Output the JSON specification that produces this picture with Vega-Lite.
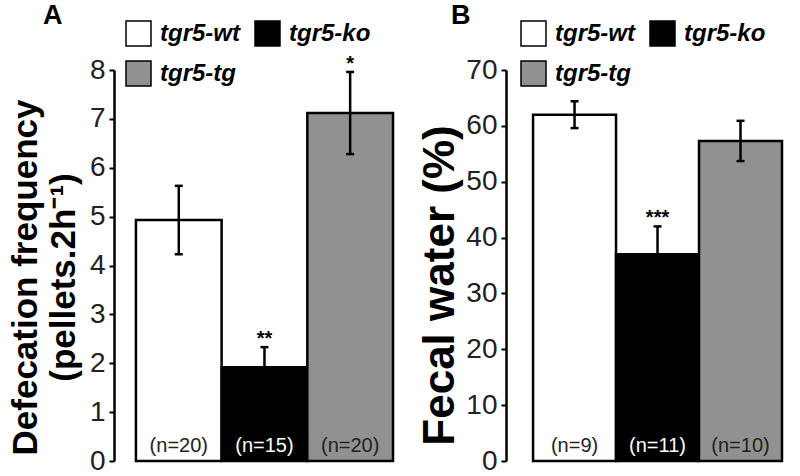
{
  "$schema": "https://vega.github.io/schema/vega-lite/v6.json",
  "padding": {"left": 8, "top": 2, "right": 0, "bottom": 0},
  "background": "white",
  "bounds": "flush",
  "spacing": 113,
  "config": {
    "view": {"stroke": null},
    "font": "Liberation Sans",
    "axisY": {
      "domainColor": "black", "domainWidth": 2.5, "tickColor": "black", "tickWidth": 2, "tickSize": 5,
      "labelFont": "Liberation Sans", "labelFontSize": 28, "labelColor": "#222", "labelPadding": 4,
      "grid": false, "titleFont": "Liberation Sans", "titleFontWeight": "bold", "titleColor": "black", "titlePadding": 8
    },
    "legend": {
      "orient": "none", "direction": "horizontal", "columns": 2, "symbolType": "square", "symbolSize": 625,
      "symbolStrokeColor": "black", "symbolStrokeWidth": 1.5, "symbolOpacity": 1,
      "labelFont": "Liberation Sans", "labelFontSize": 24, "labelFontWeight": "bold", "labelFontStyle": "italic",
      "labelColor": "black", "labelOffset": 8, "columnPadding": 12, "rowPadding": 9, "padding": 0, "labelLimit": 300
    },
    "title": {"font": "Liberation Sans", "fontSize": 27, "fontWeight": "bold", "color": "black", "anchor": "start", "frame": "group"}
  },
  "resolve": {
    "scale": {"color": "independent", "y": "independent", "x": "independent"},
    "legend": {"color": "independent"}
  },
  "datasets": {
    "freq": [
      {"genotype": "tgr5-wt", "mean": 4.93, "lo": 4.23, "hi": 5.63, "sig": "", "n": "(n=20)"},
      {"genotype": "tgr5-ko", "mean": 1.92, "lo": 1.51, "hi": 2.33, "sig": "**", "n": "(n=15)"},
      {"genotype": "tgr5-tg", "mean": 7.12, "lo": 6.28, "hi": 7.96, "sig": "*", "n": "(n=20)"}
    ],
    "water": [
      {"genotype": "tgr5-wt", "mean": 62.0, "lo": 59.6, "hi": 64.4, "sig": "", "n": "(n=9)"},
      {"genotype": "tgr5-ko", "mean": 37.0, "lo": 32.0, "hi": 42.0, "sig": "***", "n": "(n=11)"},
      {"genotype": "tgr5-tg", "mean": 57.3, "lo": 53.7, "hi": 60.9, "sig": "", "n": "(n=10)"}
    ]
  },
  "hconcat": [
    {
      "width": 279, "height": 391,
      "title": {"text": "A", "dx": -71, "offset": -10},
      "data": {"name": "freq"},
      "encoding": {
        "x": {"field": "genotype", "type": "nominal", "axis": null,
              "scale": {"domain": ["tgr5-wt", "tgr5-ko", "tgr5-tg"], "paddingInner": 0, "paddingOuter": 0.128, "align": 1}}
      },
      "layer": [
        {
          "mark": {"type": "bar", "stroke": "black", "strokeWidth": 2.5},
          "encoding": {
            "y": {"field": "mean", "type": "quantitative", "scale": {"domain": [0, 8]},
                  "axis": {"values": [0, 1, 2, 3, 4, 5, 6, 7, 8], "title": ["Defecation frequency", "(pellets.2h⁻¹)"], "titleFontSize": 35, "titleLineHeight": 38, "titleY": 207}},
            "color": {"field": "genotype", "type": "nominal",
                      "scale": {"domain": ["tgr5-wt", "tgr5-ko", "tgr5-tg"], "range": ["#ffffff", "#000000", "#919191"]},
                      "legend": {"title": null, "legendX": 11, "legendY": -50}}
          }
        },
        {"mark": {"type": "rule", "strokeWidth": 2.5, "color": "black"},
         "encoding": {"y": {"field": "lo", "type": "quantitative"}, "y2": {"field": "hi"}}},
        {"mark": {"type": "tick", "orient": "horizontal", "size": 8, "thickness": 2.5, "color": "black", "opacity": 1},
         "encoding": {"y": {"field": "lo", "type": "quantitative"}}},
        {"mark": {"type": "tick", "orient": "horizontal", "size": 8, "thickness": 2.5, "color": "black", "opacity": 1},
         "encoding": {"y": {"field": "hi", "type": "quantitative"}}},
        {"mark": {"type": "text", "fontSize": 20, "fontWeight": "bold", "baseline": "alphabetic", "dy": -2, "color": "black"},
         "encoding": {"y": {"field": "hi", "type": "quantitative"}, "text": {"field": "sig"}}},
        {"mark": {"type": "text", "fontSize": 20, "baseline": "alphabetic", "dy": -9},
         "encoding": {"y": {"datum": 0}, "text": {"field": "n"},
                      "color": {"condition": {"test": "datum.genotype === 'tgr5-ko'", "value": "#ffffff"}, "value": "#222222"}}}
      ]
    },
    {
      "width": 276, "height": 391,
      "title": {"text": "B", "dx": -55, "offset": -10},
      "data": {"name": "water"},
      "encoding": {
        "x": {"field": "genotype", "type": "nominal", "axis": null,
              "scale": {"domain": ["tgr5-wt", "tgr5-ko", "tgr5-tg"], "paddingInner": 0, "paddingOuter": 0.163, "align": 1}}
      },
      "layer": [
        {
          "mark": {"type": "bar", "stroke": "black", "strokeWidth": 2.5},
          "encoding": {
            "y": {"field": "mean", "type": "quantitative", "scale": {"domain": [0, 70]},
                  "axis": {"values": [0, 10, 20, 30, 40, 50, 60, 70], "title": "Fecal water (%)", "titleFontSize": 44, "titleY": 215, "titlePadding": 3}},
            "color": {"field": "genotype", "type": "nominal",
                      "scale": {"domain": ["tgr5-wt", "tgr5-ko", "tgr5-tg"], "range": ["#ffffff", "#000000", "#919191"]},
                      "legend": {"title": null, "legendX": 14, "legendY": -50}}
          }
        },
        {"mark": {"type": "rule", "strokeWidth": 2.5, "color": "black"},
         "encoding": {"y": {"field": "lo", "type": "quantitative"}, "y2": {"field": "hi"}}},
        {"mark": {"type": "tick", "orient": "horizontal", "size": 8, "thickness": 2.5, "color": "black", "opacity": 1},
         "encoding": {"y": {"field": "lo", "type": "quantitative"}}},
        {"mark": {"type": "tick", "orient": "horizontal", "size": 8, "thickness": 2.5, "color": "black", "opacity": 1},
         "encoding": {"y": {"field": "hi", "type": "quantitative"}}},
        {"mark": {"type": "text", "fontSize": 20, "fontWeight": "bold", "baseline": "alphabetic", "dy": -2, "color": "black"},
         "encoding": {"y": {"field": "hi", "type": "quantitative"}, "text": {"field": "sig"}}},
        {"mark": {"type": "text", "fontSize": 20, "baseline": "alphabetic", "dy": -9},
         "encoding": {"y": {"datum": 0}, "text": {"field": "n"},
                      "color": {"condition": {"test": "datum.genotype === 'tgr5-ko'", "value": "#ffffff"}, "value": "#222222"}}}
      ]
    }
  ]
}
